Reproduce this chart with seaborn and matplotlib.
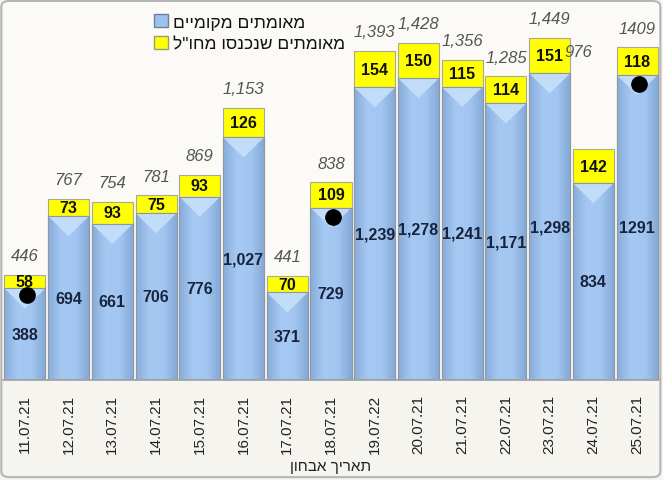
import numpy as np
import pandas as pd
import matplotlib
matplotlib.use("Agg")
import matplotlib.pyplot as plt
import seaborn as sns
from matplotlib.patches import Patch, Polygon, FancyBboxPatch
from matplotlib.colors import LinearSegmentedColormap

# ---------------- data ----------------
dates = ["11.07.21", "12.07.21", "13.07.21", "14.07.21", "15.07.21", "16.07.21",
         "17.07.21", "18.07.21", "19.07.22", "20.07.21", "21.07.21", "22.07.21",
         "23.07.21", "24.07.21", "25.07.21"]
local = [388, 694, 661, 706, 776, 1027, 371, 729, 1239, 1278, 1241, 1171, 1298, 834, 1291]
abroad = [58, 73, 93, 75, 93, 126, 70, 109, 154, 150, 115, 114, 151, 142, 118]
local_labels = ["388", "694", "661", "706", "776", "1,027", "371", "729", "1,239",
                "1,278", "1,241", "1,171", "1,298", "834", "1291"]
total_labels = ["446", "767", "754", "781", "869", "1,153", "441", "838", "1,393",
                "1,428", "1,356", "1,285", "1,449", "976", "1409"]
dots = [360, np.nan, np.nan, np.nan, np.nan, np.nan, np.nan, 690,
        np.nan, np.nan, np.nan, np.nan, np.nan, np.nan, 1253]

leg_local = "מאומתים מקומיים"
leg_abroad = 'מאומתים שנכנסו מחו"ל'
xlabel = "תאריך אבחון"


def vis(s):
    # Hebrew visual order for LTR renderer
    return s[::-1]


df = pd.DataFrame({"date": dates, "local": local, "abroad": abroad})
df["total"] = df["local"] + df["abroad"]

sns.set_theme(style="white")
plt.rcParams["font.family"] = ["Liberation Sans", "DejaVu Sans"]

fig = plt.figure(figsize=(6.63, 4.81), dpi=100)
fig.patch.set_facecolor("#f5f4ef")
ax = fig.add_axes([3 / 663, 100 / 481, 656 / 663, 379 / 481])
ax.set_facecolor("#fbfaf6")

BLUE = "#9cc2ee"
YELLOW = "#ffff00"

sns.barplot(data=df, x="date", y="local", color=BLUE, width=0.94,
            edgecolor="#8d96a3", linewidth=0.8, saturation=1, ax=ax, zorder=2)
blue_patches = list(ax.patches)
sns.barplot(data=df, x="date", y="abroad", bottom=df["local"].values, color=YELLOW,
            width=0.94, edgecolor="#a9a99a", linewidth=0.8, saturation=1, ax=ax, zorder=2)
yellow_patches = list(ax.patches)[len(blue_patches):]

ymax = 1604
ax.set_ylim(0, ymax)
ax.set_xlim(-0.5, len(dates) - 0.5)

# gradient + bevel on blue bars
cmap = LinearSegmentedColormap.from_list("b", ["#88acd9", "#a6c9f3", "#a2c6f1", "#84a8d6"])
grad = np.linspace(0, 1, 64).reshape(1, -1)
for p in blue_patches:
    x0, w, h = p.get_x(), p.get_width(), p.get_height()
    im = ax.imshow(grad, extent=[x0, x0 + w, 0, h], aspect="auto", cmap=cmap,
                   zorder=2.1, interpolation="bicubic")
    im.set_clip_path(p)
    d = min(85, h * 0.5)
    tri = Polygon([[x0, h], [x0 + w, h], [x0 + w / 2, h - d]], closed=True,
                  facecolor="#c6e0fb", edgecolor="none", zorder=2.2, alpha=0.9)
    ax.add_patch(tri)
    ax.add_patch(Polygon([[x0, h], [x0 + w, h], [x0 + w, 0], [x0, 0]], closed=True,
                         facecolor="none", edgecolor="#8d96a3", linewidth=0.8, zorder=2.3))
ax.set_ylim(0, ymax)
ax.set_xlim(-0.5, len(dates) - 0.5)

# labels
for i, p in enumerate(blue_patches):
    xc = p.get_x() + p.get_width() / 2
    ax.text(xc, local[i] / 2, local_labels[i], ha="center", va="center",
            fontsize=11.5, fontweight="bold", color="#17243d", zorder=5)
for i, p in enumerate(yellow_patches):
    xc = p.get_x() + p.get_width() / 2
    ax.text(xc, local[i] + abroad[i] / 2, str(abroad[i]), ha="center", va="center",
            fontsize=11.5, fontweight="bold", color="#111111", zorder=5)
    tx, ty = xc, local[i] + abroad[i] + 80
    if i == 13:
        tx, ty = xc - 0.35, 1392
    ax.text(tx, ty, total_labels[i], ha="center", va="center", fontsize=12,
            fontstyle="italic", color="#555555", zorder=5)

# black dots
xs = np.arange(len(dates)) + 0.05
ax.plot(xs, dots, linestyle="none", marker="o", markersize=11, color="black", zorder=6)

# axes styling
for s in ["top", "right", "left"]:
    ax.spines[s].set_visible(False)
ax.spines["bottom"].set_color("#a0a0a0")
ax.set_yticks([])
ax.set_ylabel("")
ax.set_xlabel(vis(xlabel), fontsize=11, color="#222222", labelpad=4)
ax.tick_params(axis="x", rotation=90, labelsize=11, colors="#333333", length=4,
               color="#b0b0b0", pad=6)
for t in ax.get_xticklabels():
    t.set_color("#222222")

# legend
handles = [Patch(facecolor=BLUE, edgecolor="#6f7f95", label=vis(leg_local)),
           Patch(facecolor=YELLOW, edgecolor="#9a9a7a", label=vis(leg_abroad))]
leg = fig.legend(handles=handles, loc="upper left", bbox_to_anchor=(140 / 663, 1 - 1 / 481),
                 frameon=False, markerfirst=True, fontsize=12.5, handlelength=0.8,
                 handleheight=0.8, handletextpad=0.3, labelspacing=0.35,
                 borderpad=0.3)
for t in leg.get_texts():
    t.set_color("#111111")

# outer frame
frame = FancyBboxPatch((0.002, 0.006), 0.994, 0.99, boxstyle="round,pad=0,rounding_size=0.012",
                       transform=fig.transFigure, facecolor="none", edgecolor="#b5b5b5",
                       linewidth=1.5, zorder=10)
fig.patches.append(frame)

fig.savefig("out.png", dpi=100, facecolor=fig.get_facecolor())
